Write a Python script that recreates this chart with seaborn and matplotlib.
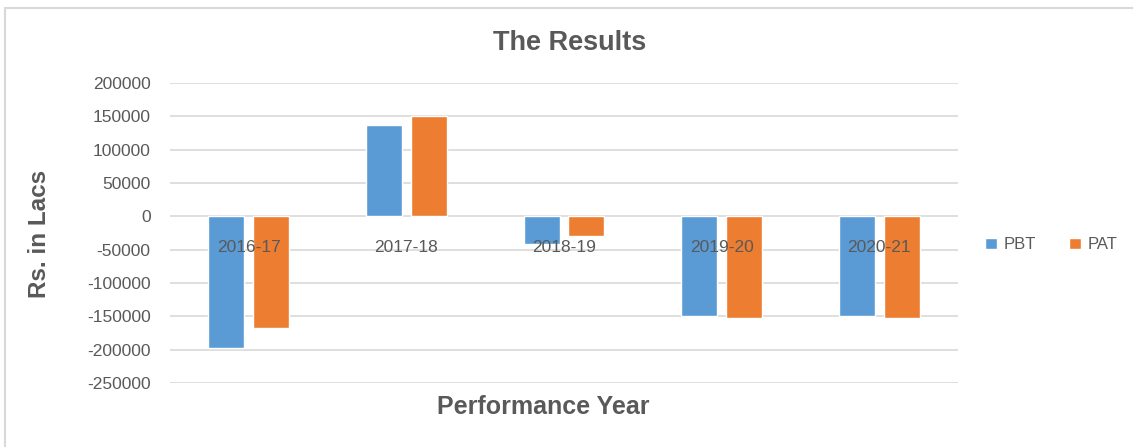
import pandas as pd
import seaborn as sns
import matplotlib.pyplot as plt
from matplotlib.patches import Rectangle

# 데이터
years = ['2016-17', '2017-18', '2018-19', '2019-20', '2020-21']
pbt = [-197000, 137500, -41500, -149000, -149000]
pat = [-167500, 150000, -29000, -152500, -152500]
yticks = list(range(-250000, 200001, 50000))

df = pd.DataFrame({
    'year': years * 2,
    'value': pbt + pat,
    'series': ['PBT'] * len(years) + ['PAT'] * len(years),
})

sns.set_style('white')
plt.rcParams['font.family'] = ['Liberation Sans', 'DejaVu Sans']
plt.rcParams['axes.unicode_minus'] = False
txt = '#595959'

fig = plt.figure(figsize=(11.33, 4.47), dpi=100)
ax = fig.add_axes([170 / 1133, 1 - 383 / 447, 788 / 1133, 300 / 447])

sns.barplot(data=df, x='year', y='value', hue='series', hue_order=['PBT', 'PAT'],
            palette={'PBT': '#5B9BD5', 'PAT': '#ED7D31'}, saturation=1,
            width=0.57, gap=0.2, ax=ax, legend=True)

ax.set_ylim(-250000, 200000)
ax.set_yticks(yticks)
ax.set_xlim(-0.5, len(years) - 0.5)
ax.yaxis.grid(True, color='#D9D9D9', linewidth=1.2)
ax.yaxis.set_zorder(0.5)
ax.xaxis.set_zorder(5)
for s in ax.spines.values():
    s.set_visible(False)
ax.spines['bottom'].set_position(('data', 0))
ax.tick_params(axis='x', length=0, pad=17, labelsize=12.5, labelcolor=txt)
ax.tick_params(axis='y', length=0, pad=14, labelsize=12.5, labelcolor=txt)
ax.set_xlabel('')
ax.set_ylabel('')

# 범례
handles, labels = ax.get_legend_handles_labels()
ax.legend_.remove()
fig.legend(handles, labels, loc='center left', bbox_to_anchor=(970 / 1133, 1 - 245 / 447),
           ncol=2, frameon=False, fontsize=12, labelcolor=txt, handlelength=0.7,
           handleheight=0.7, handletextpad=0.4, columnspacing=2.0)

fig.text(570 / 1133, 1 - 43 / 447, 'The Results', ha='center', va='center',
         fontsize=19.5, fontweight='bold', color=txt)
fig.text(40 / 1133, 1 - 234 / 447, 'Rs. in Lacs', ha='center', va='center',
         rotation=90, fontsize=17.5, fontweight='bold', color=txt)
fig.text(543 / 1133, 1 - 407 / 447, 'Performance Year', ha='center', va='center',
         fontsize=18, fontweight='bold', color=txt)

# 테두리
fig.patches.append(Rectangle((5 / 1133, -0.1), 1.2, 1.1 - 8 / 447, transform=fig.transFigure,
                             fill=False, edgecolor='#D9D9D9', linewidth=1.5))

fig.savefig('out.png', dpi=100)
